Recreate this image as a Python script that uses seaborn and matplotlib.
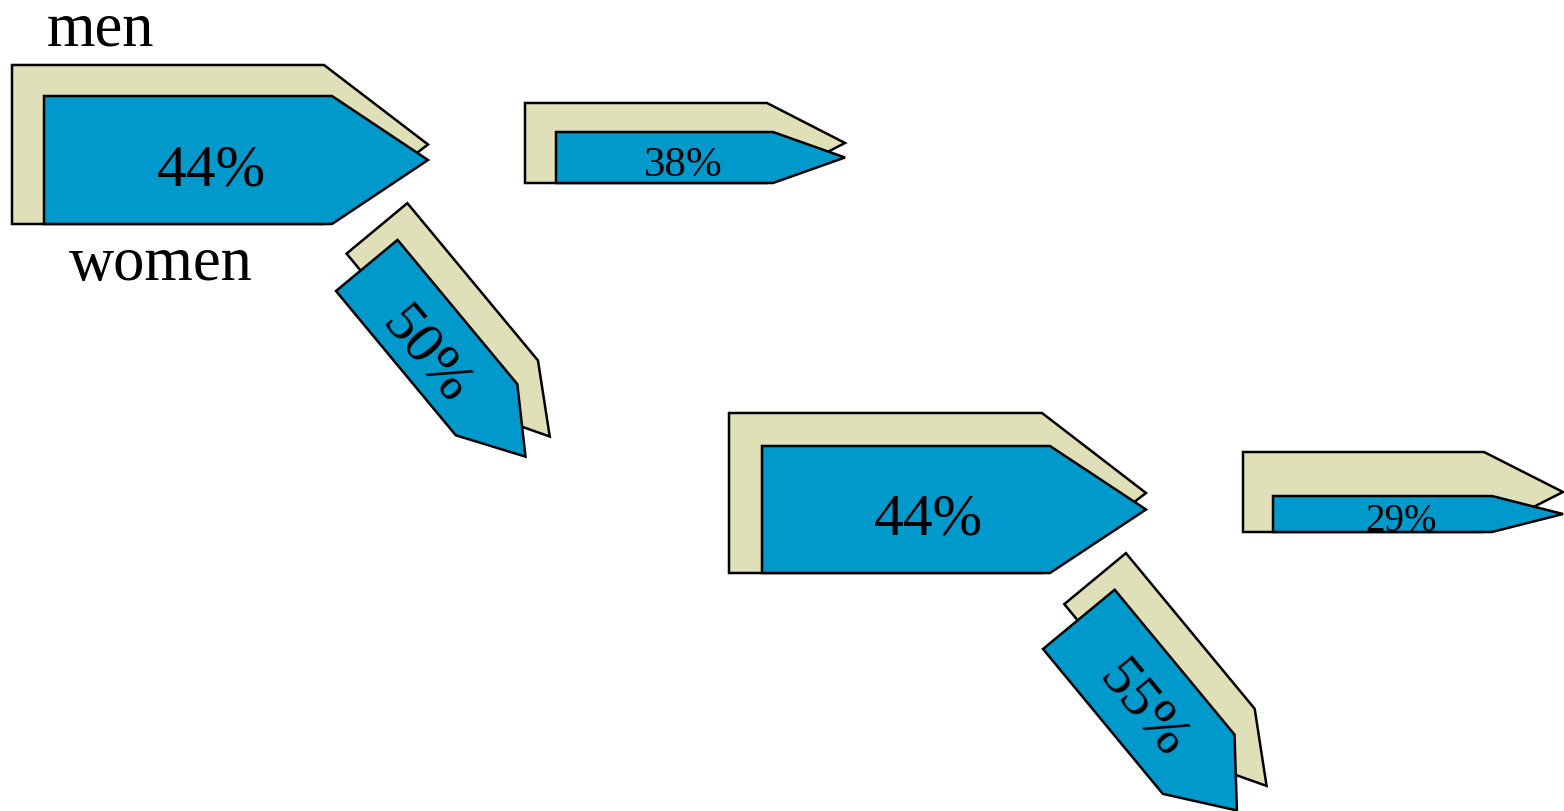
import numpy as np
import matplotlib
matplotlib.use("Agg")
import matplotlib.pyplot as plt
from matplotlib.patches import Polygon
import seaborn as sns

# ---- data ----
values = [44, 38, 50, 44, 29, 55]
value_labels = [f"{v}%" for v in values]
series_labels = ["men", "women"]

# ---- colours ----
palette = sns.color_palette(["#0099CC", "#DFDFB8"])
blue, beige = palette[0], palette[1]

# ---- layout (pixel space, y down) ----
# origin = bottom-left corner of the blue tail, angle clockwise (deg)
# blue: length, width, head ; beige: back, y0, y1, head
layout = [
    dict(ox=44,   oy=225, ang=0.0,  L=384,   w=128, hb=96,  back=32, b0=0,  b1=159, bh=104,
         tx=211, ty=185, fs=43, va="baseline"),
    dict(ox=556,  oy=184, ang=0.0,  L=289,   w=51,  hb=72,  back=31, b0=0,  b1=80,  bh=78,
         tx=683, ty=176, fs=31, va="baseline"),
    dict(ox=336,  oy=292, ang=50.3, L=248.5, w=80,  hb=61,  back=22, b0=32, b1=111, bh=66,
         tx=426, ty=356, fs=42, va="center"),
    dict(ox=762,  oy=574, ang=0.0,  L=384,   w=127, hb=96,  back=33, b0=0,  b1=160, bh=104,
         tx=928, ty=535, fs=43, va="baseline"),
    dict(ox=1273, oy=533, ang=0.0,  L=290,   w=36,  hb=71,  back=30, b0=0,  b1=80,  bh=79,
         tx=1401, ty=531, fs=28, va="baseline"),
    dict(ox=1043, oy=650, ang=50.4, L=248,   w=93,  hb=60,  back=21, b0=45, b1=125, bh=67,
         tx=1143, ty=710, fs=42, va="center"),
]
series_pos = [(101, 45), (161, 280)]


def arrow_points(ox, oy, ang, x_start, L, y_lo, y_hi, head):
    a = np.deg2rad(ang)
    d = np.array([np.cos(a), np.sin(a)])
    up = np.array([np.sin(a), -np.cos(a)])
    local = [(x_start, y_lo), (L - head, y_lo), (L, (y_lo + y_hi) / 2),
             (L - head, y_hi), (x_start, y_hi)]
    o = np.array([ox, oy])
    return np.array([o + x * d + y * up for x, y in local])


sns.set_theme(style="white")
plt.rcParams["font.family"] = ["Liberation Serif", "DejaVu Serif"]

fig = plt.figure(figsize=(15.64, 8.12), dpi=100)
ax = fig.add_axes([0, 0, 1, 1])
ax.set_xlim(0, 1564)
ax.set_ylim(812, 0)
ax.axis("off")

lw = 1.8
for i, (lab, sp) in enumerate(zip(value_labels, layout)):
    beige_pts = arrow_points(sp["ox"], sp["oy"], sp["ang"], -sp["back"], sp["L"],
                             sp["b0"], sp["b1"], sp["bh"])
    blue_pts = arrow_points(sp["ox"], sp["oy"], sp["ang"], 0, sp["L"],
                            0, sp["w"], sp["hb"])
    ax.add_patch(Polygon(beige_pts, closed=True, facecolor=beige, edgecolor="black",
                         linewidth=lw, joinstyle="miter", zorder=2 + 2 * i))
    ax.add_patch(Polygon(blue_pts, closed=True, facecolor=blue, edgecolor="black",
                         linewidth=lw, joinstyle="miter", zorder=3 + 2 * i))
    ax.text(sp["tx"], sp["ty"], lab, fontsize=sp["fs"], ha="center", va=sp["va"],
            rotation=-sp["ang"], rotation_mode="anchor", color="black", zorder=20)

for lab, (x, y) in zip(series_labels, series_pos):
    ax.text(x, y, lab, fontsize=45, ha="center", va="baseline", color="black", zorder=20)

fig.savefig("out.png", dpi=100)
